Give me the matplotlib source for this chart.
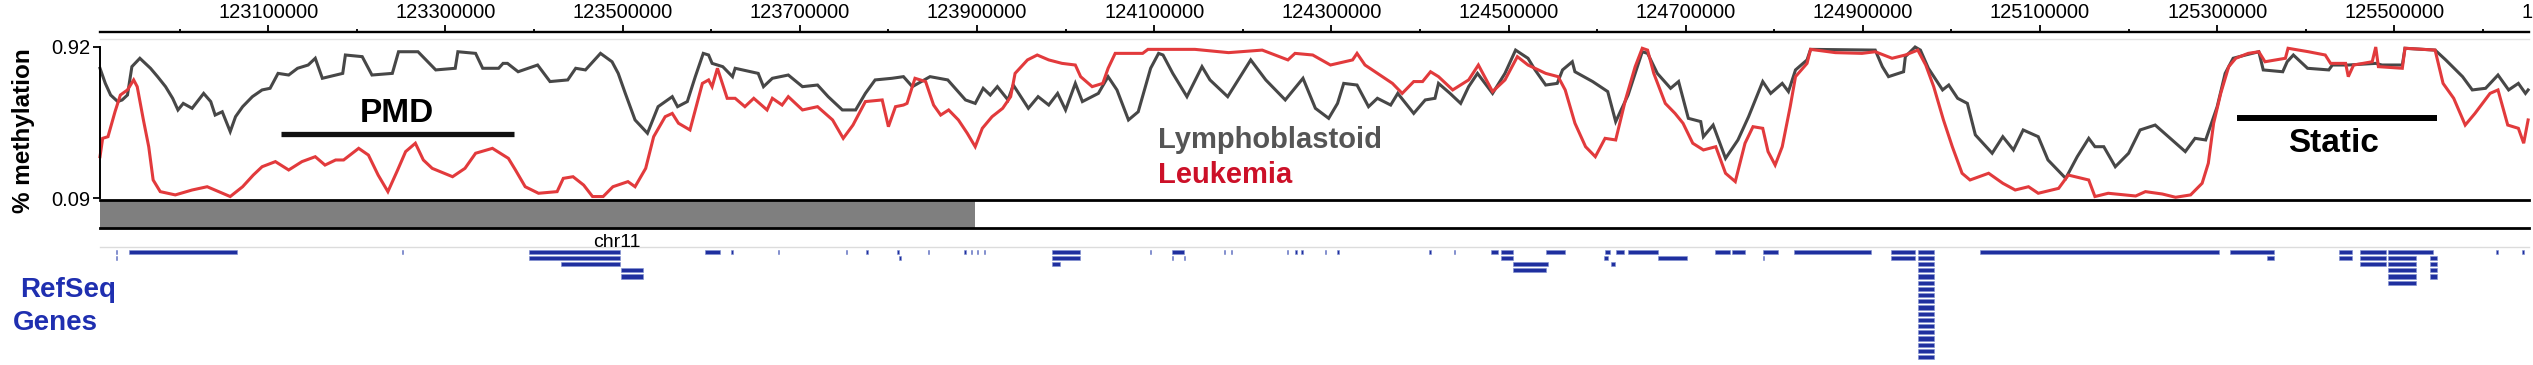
import matplotlib
matplotlib.use('Agg')
import matplotlib.pyplot as plt
from matplotlib.transforms import offset_copy

plt.rcParams['font.family'] = ['Liberation Sans', 'DejaVu Sans']

# ---------------- data (positions in kb on chr11) ----------------
view_kb = (122910, 125652)

lympho_pos_kb = [
    122910, 122916, 122922, 122930, 122935, 122941, 122946, 122955, 122967, 122975,
    122984, 122992, 122998, 123004, 123014, 123027, 123035, 123040, 123048, 123054,
    123057, 123063, 123071, 123082, 123093, 123102, 123111, 123123, 123133, 123145,
    123153, 123161, 123184, 123187, 123206, 123217, 123240, 123247, 123269, 123289,
    123311, 123314, 123334, 123342, 123360, 123365, 123370, 123382, 123404, 123418,
    123438, 123447, 123458, 123475, 123488, 123495, 123503, 123514, 123528, 123540,
    123556, 123562, 123573, 123582, 123591, 123597, 123601, 123613, 123624, 123627,
    123653, 123659, 123669, 123687, 123703, 123720, 123732, 123748, 123763, 123774,
    123785, 123804, 123817, 123827, 123847, 123867, 123887, 123898, 123907, 123915,
    123923, 123935, 123941, 123958, 123969, 123981, 123991, 124000, 124011, 124019,
    124037, 124048, 124058, 124071, 124082, 124096, 124105, 124110, 124121, 124137,
    124154, 124163, 124183, 124209, 124226, 124248, 124268, 124282, 124297, 124307,
    124314, 124329, 124342, 124352, 124367, 124375, 124384, 124393, 124406, 124417,
    124421, 124434, 124446, 124455, 124465, 124482, 124496, 124508, 124522, 124530,
    124542, 124555, 124561, 124572, 124575, 124595, 124612, 124621, 124635, 124651,
    124657, 124668, 124683, 124692, 124703, 124717, 124720, 124731, 124745, 124759,
    124771, 124787, 124796, 124809, 124816, 124824, 124837, 124841, 124914, 124922,
    124929, 124946, 124948, 124959, 124965, 124974, 124990, 124997, 125007, 125018,
    125027, 125046, 125058, 125070, 125081, 125098, 125109, 125129, 125142, 125155,
    125162, 125172, 125185, 125200, 125213, 125230, 125249, 125264, 125275, 125287,
    125300, 125309, 125318, 125332, 125347, 125352, 125374, 125379, 125386, 125402,
    125426, 125430, 125448, 125479, 125486, 125509, 125512, 125546, 125558, 125577,
    125588, 125603, 125617, 125629, 125640, 125648, 125651]
lympho_meth = [
    0.803, 0.720, 0.656, 0.620, 0.629, 0.656, 0.812, 0.858, 0.803, 0.757,
    0.702, 0.638, 0.574, 0.610, 0.583, 0.665, 0.620, 0.546, 0.564, 0.491,
    0.455, 0.537, 0.592, 0.647, 0.684, 0.693, 0.775, 0.766, 0.803, 0.821,
    0.858, 0.748, 0.775, 0.876, 0.867, 0.766, 0.775, 0.894, 0.894, 0.794,
    0.803, 0.894, 0.885, 0.803, 0.803, 0.830, 0.830, 0.784, 0.821, 0.730,
    0.739, 0.803, 0.794, 0.885, 0.839, 0.775, 0.665, 0.519, 0.446, 0.592,
    0.647, 0.592, 0.620, 0.757, 0.885, 0.876, 0.830, 0.812, 0.757, 0.803,
    0.775, 0.702, 0.748, 0.766, 0.702, 0.711, 0.647, 0.574, 0.574, 0.665,
    0.739, 0.748, 0.757, 0.702, 0.757, 0.739, 0.629, 0.610, 0.693, 0.656,
    0.702, 0.629, 0.711, 0.583, 0.647, 0.601, 0.665, 0.574, 0.720, 0.620,
    0.665, 0.757, 0.684, 0.519, 0.564, 0.803, 0.885, 0.876, 0.775, 0.647,
    0.812, 0.739, 0.647, 0.849, 0.739, 0.629, 0.748, 0.583, 0.528, 0.610,
    0.720, 0.711, 0.592, 0.638, 0.601, 0.665, 0.610, 0.555, 0.629, 0.638,
    0.720, 0.665, 0.610, 0.702, 0.775, 0.665, 0.775, 0.903, 0.858, 0.794,
    0.711, 0.720, 0.794, 0.839, 0.784, 0.730, 0.675, 0.510, 0.656, 0.894,
    0.885, 0.775, 0.693, 0.730, 0.528, 0.510, 0.427, 0.491, 0.308, 0.409,
    0.537, 0.730, 0.665, 0.720, 0.675, 0.794, 0.849, 0.907, 0.903, 0.812,
    0.757, 0.784, 0.867, 0.920, 0.903, 0.803, 0.684, 0.711, 0.638, 0.610,
    0.437, 0.336, 0.427, 0.354, 0.464, 0.427, 0.299, 0.198, 0.317, 0.418,
    0.372, 0.372, 0.262, 0.336, 0.464, 0.491, 0.409, 0.345, 0.418, 0.409,
    0.592, 0.775, 0.858, 0.876, 0.894, 0.794, 0.784, 0.839, 0.876, 0.803,
    0.794, 0.821, 0.821, 0.830, 0.821, 0.821, 0.913, 0.903, 0.849, 0.757,
    0.684, 0.693, 0.766, 0.684, 0.720, 0.665, 0.684]

leuk_pos_kb = [
    122910, 122913, 122919, 122927, 122933, 122941, 122948, 122952, 122959, 122965,
    122970, 122978, 122995, 123014, 123031, 123044, 123057, 123071, 123083, 123093,
    123108, 123123, 123138, 123153, 123164, 123176, 123185, 123202, 123213, 123224,
    123235, 123246, 123255, 123266, 123275, 123285, 123308, 123322, 123334, 123353,
    123371, 123379, 123390, 123405, 123426, 123433, 123444, 123456, 123466, 123478,
    123489, 123506, 123514, 123526, 123535, 123548, 123556, 123563, 123576, 123582,
    123590, 123597, 123601, 123607, 123618, 123627, 123638, 123648, 123663, 123669,
    123680, 123687, 123703, 123720, 123737, 123749, 123760, 123774, 123793, 123800,
    123808, 123817, 123821, 123830, 123842, 123851, 123859, 123868, 123879, 123889,
    123898, 123906, 123917, 123929, 123938, 123943, 123957, 123968, 123981, 123996,
    124011, 124017, 124030, 124042, 124048, 124056, 124087, 124093, 124146, 124184,
    124222, 124251, 124259, 124279, 124299, 124324, 124329, 124338, 124355, 124369,
    124380, 124393, 124403, 124412, 124421, 124437, 124455, 124466, 124482, 124496,
    124510, 124522, 124542, 124556, 124564, 124575, 124587, 124598, 124609, 124621,
    124632, 124643, 124651, 124657, 124664, 124677, 124688, 124697, 124708, 124720,
    124734, 124745, 124756, 124767, 124776, 124787, 124793, 124801, 124809, 124818,
    124824, 124837, 124841, 124869, 124899, 124914, 124933, 124948, 124962, 124971,
    124980, 124991, 125001, 125012, 125021, 125042, 125058, 125072, 125087, 125098,
    125121, 125132, 125155, 125162, 125177, 125208, 125219, 125238, 125253, 125270,
    125283, 125290, 125296, 125304, 125313, 125321, 125335, 125347, 125354, 125377,
    125380, 125403, 125422, 125428, 125445, 125448, 125454, 125475, 125479, 125482,
    125509, 125512, 125546, 125555, 125567, 125580, 125591, 125608, 125617, 125628,
    125640, 125646, 125651]
leuk_meth = [
    0.317, 0.418, 0.427, 0.565, 0.656, 0.684, 0.739, 0.702, 0.519, 0.372,
    0.189, 0.125, 0.107, 0.134, 0.152, 0.125, 0.098, 0.152, 0.216, 0.262,
    0.290, 0.244, 0.290, 0.317, 0.271, 0.299, 0.299, 0.363, 0.326, 0.216,
    0.125, 0.244, 0.345, 0.391, 0.299, 0.253, 0.207, 0.253, 0.336, 0.363,
    0.308, 0.244, 0.152, 0.116, 0.125, 0.198, 0.207, 0.161, 0.098, 0.098,
    0.152, 0.180, 0.152, 0.253, 0.427, 0.537, 0.555, 0.501, 0.464, 0.574,
    0.720, 0.739, 0.702, 0.803, 0.638, 0.638, 0.592, 0.638, 0.574, 0.638,
    0.601, 0.647, 0.574, 0.592, 0.519, 0.418, 0.491, 0.620, 0.629, 0.482,
    0.592, 0.601, 0.610, 0.748, 0.730, 0.601, 0.546, 0.574, 0.519, 0.446,
    0.372, 0.473, 0.537, 0.583, 0.647, 0.775, 0.849, 0.876, 0.849, 0.830,
    0.821, 0.757, 0.702, 0.720, 0.803, 0.885, 0.885, 0.907, 0.907, 0.889,
    0.903, 0.849, 0.885, 0.876, 0.821, 0.849, 0.885, 0.821, 0.766, 0.720,
    0.665, 0.730, 0.730, 0.784, 0.757, 0.684, 0.739, 0.821, 0.675, 0.739,
    0.867, 0.821, 0.775, 0.757, 0.684, 0.501, 0.372, 0.317, 0.418, 0.409,
    0.629, 0.812, 0.913, 0.903, 0.775, 0.610, 0.555, 0.501, 0.391, 0.354,
    0.372, 0.226, 0.180, 0.391, 0.482, 0.473, 0.345, 0.271, 0.372, 0.592,
    0.757, 0.830, 0.907, 0.889, 0.885, 0.894, 0.858, 0.876, 0.903, 0.821,
    0.702, 0.519, 0.372, 0.226, 0.189, 0.226, 0.171, 0.134, 0.152, 0.116,
    0.143, 0.216, 0.189, 0.098, 0.116, 0.101, 0.125, 0.112, 0.094, 0.107,
    0.171, 0.281, 0.501, 0.665, 0.812, 0.858, 0.885, 0.894, 0.839, 0.858,
    0.913, 0.894, 0.876, 0.830, 0.830, 0.757, 0.821, 0.839, 0.920, 0.812,
    0.803, 0.913, 0.903, 0.720, 0.638, 0.491, 0.555, 0.665, 0.684, 0.491,
    0.473, 0.391, 0.519]

ruler_major_kb = [123100, 123300, 123500, 123700, 123900, 124100, 124300,
                  124500, 124700, 124900, 125100, 125300, 125500]
ruler_labels = ['123100000', '123300000', '123500000', '123700000', '123900000',
                '124100000', '124300000', '124500000', '124700000', '124900000',
                '125100000', '125300000', '125500000']
ruler_minor_kb = [123000, 123200, 123400, 123600, 123800, 124000, 124200,
                  124400, 124600, 124800, 125000, 125200, 125400, 125600]
edge_tick_kb = 125700
edge_tick_label = '125700000'

y_ticks = [0.09, 0.92]
y_tick_labels = ['0.09', '0.92']

domain_kb = (122910, 123898)      # grey domain track
pmd_kb = (123114, 123377)
static_kb = (125322, 125548)

# RefSeq genes: start kb, end kb, display row
gene_start = [
    122927.5, 122942.2, 123250.6, 123394.2, 123592.9, 123622.7, 123675.0, 123751.6,
    123775.1, 123809.9, 123844.7, 123885.7, 123892.7, 123899.7, 123907.5, 123984.8,
    124094.8, 124119.8, 124178.3, 124186.2, 124249.8, 124259.4, 124266.1, 124292.8,
    124306.9, 124410.7, 124438.3, 124480.6, 124491.4, 124542.7, 124608.4, 124621.7,
    124635.1, 124733.6, 124752.3, 124787.7, 124822.4, 124931.5, 125032.7, 125314.0,
    125437.4, 125461.3, 125493.3, 125615.1, 125644.4,
    122927.5, 123394.2, 123812.3, 123984.8, 124119.8, 124133.4, 124491.4, 124608.2,
    124668.8, 124787.0, 124931.5, 125356.7, 125437.4, 125461.3, 125493.3, 125540.3,
    123430.0, 123984.8, 124504.7, 124616.1, 125461.3, 125493.3, 125540.3,
    123498.7, 124504.7, 125493.3, 125540.3,
    123498.7, 125493.3, 125540.3,
    125493.3,
    124962.6, 124962.6, 124962.6, 124962.6, 124962.6, 124962.6, 124962.6, 124962.6,
    124962.6, 124962.6, 124962.6, 124962.6, 124962.6, 124962.6, 124962.6, 124962.6,
    124962.6, 124962.6]
gene_end = [
    122929.0, 123064.1, 123252.0, 123497.0, 123610.3, 123624.2, 123676.5, 123753.1,
    123776.6, 123811.4, 123846.2, 123887.2, 123894.2, 123901.2, 123909.0, 124016.2,
    124096.3, 124133.7, 124179.8, 124187.7, 124251.3, 124260.9, 124267.6, 124294.3,
    124308.4, 124412.2, 124439.8, 124488.5, 124504.7, 124563.3, 124614.6, 124630.7,
    124668.8, 124749.5, 124766.5, 124804.6, 124909.4, 124959.1, 125301.6, 125364.6,
    125452.5, 125490.7, 125544.0, 125616.6, 125645.9,
    122929.0, 123497.0, 123813.8, 124016.2, 124121.2, 124134.9, 124504.7, 124612.7,
    124701.7, 124788.5, 124959.1, 125364.6, 125452.5, 125490.7, 125524.4, 125548.4,
    123497.0, 123993.4, 124544.5, 124620.1, 125490.7, 125524.4, 125548.4,
    123523.1, 124541.9, 125524.4, 125548.4,
    123523.1, 125524.4, 125548.4,
    125524.4,
    124980.3, 124980.3, 124980.3, 124980.3, 124980.3, 124980.3, 124980.3, 124980.3,
    124980.3, 124980.3, 124980.3, 124980.3, 124980.3, 124980.3, 124980.3, 124980.3,
    124980.3, 124980.3]
gene_row = [
    0, 0, 0, 0, 0, 0, 0, 0, 0, 0, 0, 0, 0, 0, 0, 0,
    0, 0, 0, 0, 0, 0, 0, 0, 0, 0, 0, 0, 0, 0, 0, 0,
    0, 0, 0, 0, 0, 0, 0, 0, 0, 0, 0, 0, 0,
    1, 1, 1, 1, 1, 1, 1, 1, 1, 1, 1, 1, 1, 1, 1, 1,
    2, 2, 2, 2, 2, 2, 2,
    3, 3, 3, 3,
    4, 4, 4,
    5,
    0, 1, 2, 3, 4, 5, 6, 7, 8, 9, 10, 11, 12, 13, 14, 15, 16, 17]

chrom_label = 'chr11'
chrom_label_kb = 123493

# ---------------- layout ----------------
W, H = 2533, 365
fig = plt.figure(figsize=(W / 100, H / 100), dpi=100)


def rect(x0, y0, x1, y1):
    return [x0 / W, 1 - y1 / H, (x1 - x0) / W, (y1 - y0) / H]


X0, X1 = 100, 2529
TICK_FS = 14.5

# ruler
ax_r = fig.add_axes(rect(X0, 32, X1, 39))
ax_r.set_xlim(view_kb)
ax_r.set_ylim(0, 1)
ax_r.patch.set_visible(False)
for s in ['left', 'right']:
    ax_r.spines[s].set_visible(False)
ax_r.spines['top'].set_linewidth(1.7)
ax_r.spines['bottom'].set_color('#e2e2e2')
ax_r.spines['bottom'].set_linewidth(1.0)
ax_r.xaxis.tick_top()
ax_r.set_xticks(ruler_major_kb)
ax_r.set_xticklabels(ruler_labels, fontsize=TICK_FS)
ax_r.set_xticks(ruler_minor_kb, minor=True)
ax_r.tick_params(axis='x', which='major', direction='out', length=5, width=1.3,
                 pad=2.5, top=True, bottom=False)
ax_r.tick_params(axis='x', which='minor', direction='out', length=2.2, width=1.3,
                 top=True, bottom=False)
ax_r.set_yticks([])
tr = offset_copy(ax_r.get_xaxis_transform(), fig=fig, x=0, y=7.5, units='points')
ax_r.text(edge_tick_kb, 1, edge_tick_label, transform=tr, ha='center', va='bottom',
          fontsize=TICK_FS, clip_on=False)

# methylation track
ax = fig.add_axes(rect(X0, 47, X1, 198))
ax.plot(lympho_pos_kb, lympho_meth, color='#474747', lw=2.2, clip_on=False,
        solid_joinstyle='miter')
ax.plot(leuk_pos_kb, leuk_meth, color='#e23a3c', lw=2.2, clip_on=False,
        solid_joinstyle='miter')
ax.set_xlim(view_kb)
ax.set_ylim(0.09, 0.92)
ax.patch.set_visible(False)
for s in ['top', 'right', 'bottom']:
    ax.spines[s].set_visible(False)
ax.spines['left'].set_linewidth(1.4)
ax.set_xticks([])
ax.set_yticks(y_ticks)
ax.set_yticklabels(y_tick_labels, fontsize=TICK_FS)
ax.tick_params(axis='y', length=5, width=1.3, pad=2)

ax.hlines(0.440, pmd_kb[0], pmd_kb[1], color='#111111', lw=3.8)
ax.hlines(0.528, static_kb[0], static_kb[1], color='#000000', lw=4.3)
ax.text(sum(pmd_kb) / 2, 0.509, 'PMD', ha='center', va='baseline', fontsize=24,
        fontweight='bold')
ax.text(sum(static_kb) / 2 - 4, 0.344, 'Static', ha='center', va='baseline',
        fontsize=24, fontweight='bold')
ax.text(124104, 0.363, 'Lymphoblastoid', ha='left', va='baseline', fontsize=21,
        fontweight='bold', color='#555555')
ax.text(124104, 0.170, 'Leukemia', ha='left', va='baseline', fontsize=21,
        fontweight='bold', color='#cc1028')

# domain track
ax_d = fig.add_axes(rect(X0, 200, X1, 228))
ax_d.set_xlim(view_kb)
ax_d.set_ylim(0, 1)
ax_d.axvspan(domain_kb[0], domain_kb[1], color='#7f7f7f', lw=0)
for s in ['left', 'right']:
    ax_d.spines[s].set_visible(False)
for s in ['top', 'bottom']:
    ax_d.spines[s].set_linewidth(2.0)
ax_d.set_xticks([])
ax_d.set_yticks([])

# gene track
ax_g = fig.add_axes(rect(X0, 247, X1, 365))
ax_g.set_xlim(view_kb)
ax_g.set_ylim(18.27, -0.76)
widths = [e - s for s, e in zip(gene_start, gene_end)]
ax_g.barh(gene_row, widths, left=gene_start, height=0.66, color='#1f2f9f',
          edgecolor='#8090d0', linewidth=0.4)
ax_g.patch.set_visible(False)
for s in ['left', 'right', 'bottom']:
    ax_g.spines[s].set_visible(False)
ax_g.spines['top'].set_color('#dcdcdc')
ax_g.spines['top'].set_linewidth(1.0)
ax_g.set_xticks([])
ax_g.set_yticks([])
ax_g.text(chrom_label_kb, 1.034, chrom_label, transform=ax_g.get_xaxis_transform(),
          ha='center', va='center', fontsize=14, clip_on=False)

# side labels
fig.text(24 / W, 1 - 131 / H, '% methylation', rotation=90, ha='center', va='center',
         fontsize=17.5, fontweight='bold')
fig.text(20 / W, 1 - 296.7 / H, 'RefSeq', ha='left', va='baseline', fontsize=20,
         fontweight='bold', color='#1f2fb0')
fig.text(13 / W, 1 - 330 / H, 'Genes', ha='left', va='baseline', fontsize=20,
         fontweight='bold', color='#1f2fb0')

fig.savefig('out.png', dpi=100)
